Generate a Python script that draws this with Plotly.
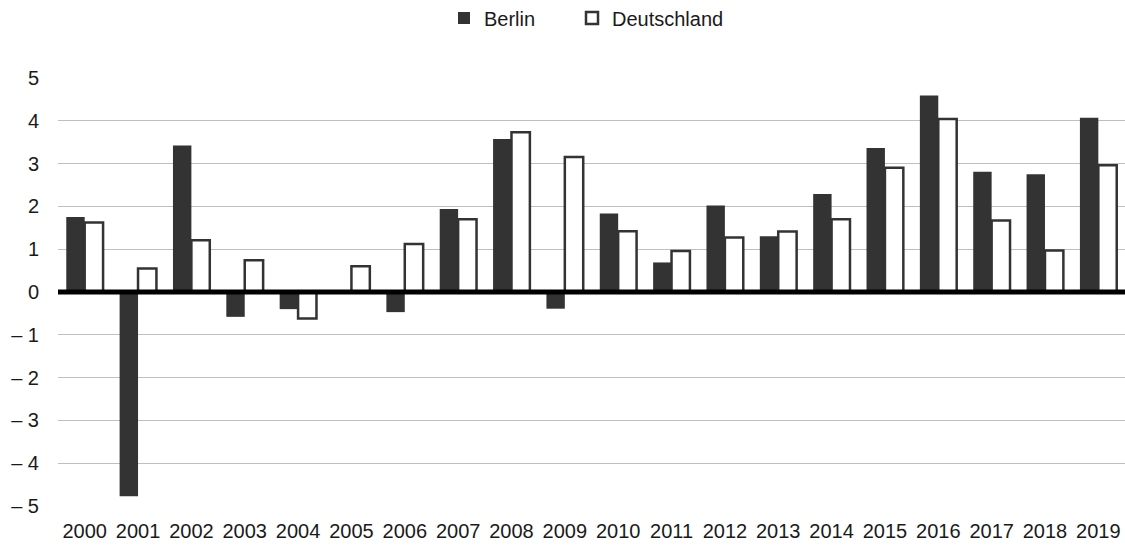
import plotly.graph_objects as go

years = [str(y) for y in range(2000, 2020)]
berlin = [1.75, -4.77, 3.42, -0.58, -0.40, 0.0, -0.47, 1.94, 3.57, -0.39,
          1.83, 0.69, 2.02, 1.30, 2.29, 3.36, 4.59, 2.81, 2.75, 4.07]
deutschland = [1.62, 0.55, 1.21, 0.74, -0.62, 0.60, 1.12, 1.70, 3.73, 3.15,
               1.42, 0.96, 1.27, 1.41, 1.70, 2.90, 4.04, 1.67, 0.97, 2.96]
ytick_vals = [-5, -4, -3, -2, -1, 0, 1, 2, 3, 4, 5]
ytick_text = ["\u2013 5", "\u2013 4", "\u2013 3", "\u2013 2", "\u2013 1", "0", "1", "2", "3", "4", "5"]

font = "Liberation Sans, Arial, sans-serif"

L, R, T, B = 58, 0, 77, 38
W, H = 1125, 545
pw = W - L - R
ph = H - T - B

fig = go.Figure()
fig.add_trace(go.Bar(x=years, y=berlin, name="Berlin", legend="legend",
                     marker=dict(color="#333333", line=dict(color="#333333", width=0))))
fig.add_trace(go.Bar(x=years, y=deutschland, name="Deutschland", legend="legend2",
                     marker=dict(color="white", line=dict(color="#333333", width=2.5))))

fig.add_shape(type="line", xref="paper", yref="y", x0=0, x1=1, y0=0, y1=0,
              line=dict(color="black", width=5), layer="above")

leg_common = dict(orientation="h", xanchor="left", yanchor="middle",
                  y=1 + (T - 18) / ph, font=dict(size=20), itemwidth=30,
                  bgcolor="rgba(0,0,0,0)")

fig.update_layout(
    width=W, height=H,
    margin=dict(l=L, r=R, t=T, b=B, autoexpand=False),
    paper_bgcolor="white", plot_bgcolor="white",
    barmode="group", bargap=0.31, bargroupgap=0,
    font=dict(family=font, size=20, color="#1a1a1a"),
    legend=dict(x=(444 - L) / pw, **leg_common),
    legend2=dict(x=(572 - L) / pw, **leg_common),
    showlegend=True,
)
fig.update_xaxes(showgrid=False, showline=False, ticks="outside", ticklen=6,
                 tickcolor="rgba(0,0,0,0)", tickfont=dict(size=20),
                 tickangle=0, automargin=False)
fig.update_yaxes(range=[-5.02, 5.02], tickvals=ytick_vals, ticktext=ytick_text,
                 showgrid=True, gridcolor="#bfbfbf", gridwidth=1, zeroline=False,
                 ticks="outside", ticklen=14, tickcolor="rgba(0,0,0,0)",
                 tickfont=dict(size=20), showline=False, automargin=False)

fig.write_html(
    "out.html",
    config={"displayModeBar": False},
    post_script="document.documentElement.style.overflow='hidden';"
                "document.body.style.margin='0';document.body.style.overflow='hidden';",
)
